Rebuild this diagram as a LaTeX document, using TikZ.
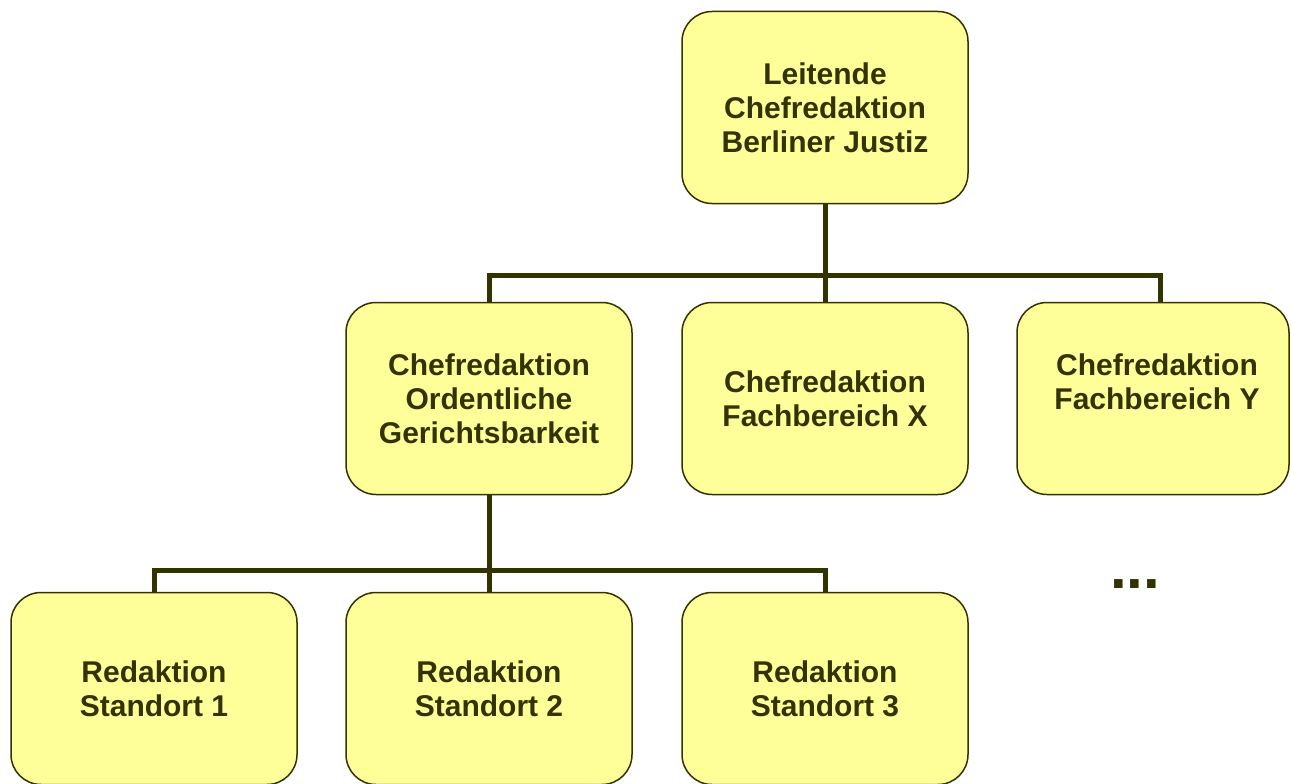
\documentclass[tikz,border=0pt]{standalone}
\usepackage{fontspec}
\setmainfont{Liberation Sans}
\usetikzlibrary{backgrounds}
\definecolor{boxfill}{HTML}{FFFF99}
\definecolor{dark}{HTML}{333300}
\begin{document}
\begin{tikzpicture}[x=1pt,y=-1pt,
  orgbox/.style={draw=dark, line width=1.5pt, fill=boxfill, rounded corners=30pt,
    minimum width=286pt, minimum height=192pt, inner sep=0pt},
  lbl/.style={text=dark, font=\fontsize{30}{34}\selectfont\bfseries, align=center},
  conn/.style={draw=dark, line width=5pt, line join=miter}]
\useasboundingbox (0,0) rectangle (1291,784);
% boxes
\node[orgbox] (top) at (825,107.5) {};
\node[orgbox] (mid1) at (489,398.5) {};
\node[orgbox] (mid2) at (825,398.5) {};
\node[orgbox, minimum width=272pt] (mid3) at (1153,398.5) {};
\node[orgbox] (low1) at (154,688.5) {};
\node[orgbox] (low2) at (489,688.5) {};
\node[orgbox] (low3) at (825,688.5) {};
% labels
\node[lbl] (ttop) at (top.center) {Leitende\\Chefredaktion\\Berliner Justiz};
\node[lbl] (tmid1) at (mid1.center) {Chefredaktion\\Ordentliche\\Gerichtsbarkeit};
\node[lbl] (tmid2) at (mid2.center) {Chefredaktion\\Fachbereich X};
\node[lbl] (tmid3) at (1157,382) {Chefredaktion\\Fachbereich Y};
\node[lbl] (tlow1) at (low1.center) {Redaktion\\Standort 1};
\node[lbl] (tlow2) at (low2.center) {Redaktion\\Standort 2};
\node[lbl] (tlow3) at (low3.center) {Redaktion\\Standort 3};
\node[text=dark, font=\fontsize{60}{60}\selectfont\bfseries, anchor=base, inner sep=0pt] (dots) at (1135,588) {...};
% connectors
\coordinate (bar1) at (825,275);
\coordinate (c3) at (1160,275);
\coordinate (bar2) at (489,570);
\begin{pgfonlayer}{background}
\draw[conn] (top.south) -- (mid2.north);
\draw[conn] (mid1.north) |- (bar1) -- (c3) -- (c3 |- mid3.north);
\draw[conn] (mid1.south) -- (low2.north);
\draw[conn] (low1.north) |- (bar2) -| (low3.north);
\end{pgfonlayer}
\end{tikzpicture}
\end{document}
